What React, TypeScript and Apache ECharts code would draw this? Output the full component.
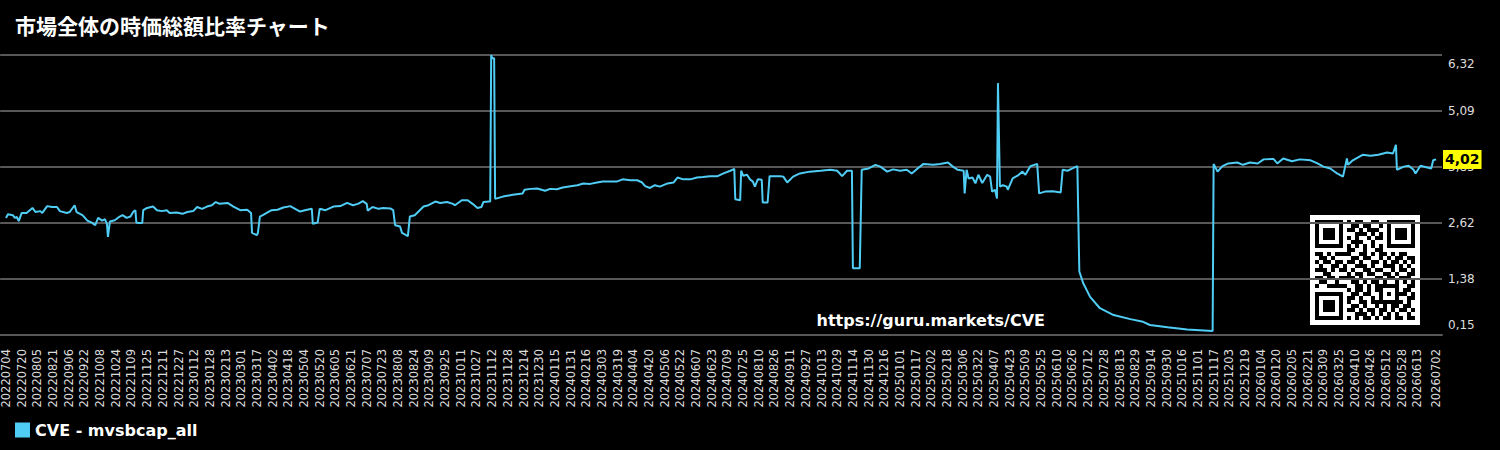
import React, { useEffect, useRef } from 'react';
import * as echarts from 'echarts';

const TITLE = '市場全体の時価総額比率チャート';
const SERIES_NAME = 'CVE - mvsbcap_all';
const URL_TEXT = 'https://guru.markets/CVE';
const LINE_COLOR = '#4fcdf5';
const FONT = '"DejaVu Sans", sans-serif';

// x axis: calendar days since 2022-07-04 (last day = 2026-07-02)
const START_UTC = Date.UTC(2022, 6, 4);
const LAST_DAY = 1459;
const TICK_STEP_DAYS = 16;

// y axis ticks
const Y_MIN = 0.15;
const Y_MAX = 6.32;
const Y_TICKS = [0.15, 1.384, 2.618, 3.852, 5.086, 6.32];

// series: day offset and value
const days = [
  0, 2, 7, 9, 11, 13, 16, 21, 27, 30, 35, 37, 42, 47, 52, 55, 62, 65, 70, 72,
  78, 83, 88, 91, 94, 98, 101, 103, 104, 106, 111, 116, 119, 123, 127, 130, 132, 133, 135, 139,
  140, 144, 150, 154, 159, 164, 167, 174, 180, 185, 191, 195, 200, 205, 210, 214, 218, 226, 232, 239,
  246, 250, 251, 256, 257, 259, 262, 266, 271, 277, 283, 290, 295, 300, 305, 312, 313, 318, 320, 326,
  334, 341, 348, 354, 359, 364, 368, 369, 374, 380, 385, 392, 395, 397, 402, 404, 410, 412, 417, 426,
  431, 438, 443, 450, 456, 458, 465, 471, 476, 481, 485, 487, 493, 494, 495, 496, 498, 499, 507, 517,
  527, 529, 535, 542, 550, 555, 562, 568, 576, 583, 589, 596, 603, 609, 616, 623, 629, 637, 644, 649,
  652, 657, 662, 667, 675, 681, 685, 691, 698, 705, 711, 718, 726, 732, 739, 743, 744, 749, 750, 752,
  756, 759, 762, 764, 767, 771, 772, 777, 779, 783, 790, 793, 797, 803, 810, 820, 831, 841, 848, 853,
  858, 863, 864, 871, 873, 880, 887, 892, 899, 905, 912, 919, 924, 930, 936, 946, 953, 961, 966, 971,
  977, 978, 980, 982, 986, 989, 992, 996, 1001, 1004, 1006, 1009, 1011, 1012, 1014, 1017, 1021, 1022, 1027, 1032,
  1037, 1040, 1045, 1052, 1054, 1060, 1068, 1076, 1078, 1083, 1088, 1093, 1095, 1099, 1106, 1116, 1130, 1147, 1160, 1167,
  1185, 1205, 1231, 1232, 1236, 1241, 1247, 1256, 1262, 1269, 1277, 1283, 1293, 1297, 1303, 1312, 1320, 1331, 1338, 1344,
  1351, 1358, 1364, 1368, 1369, 1374, 1384, 1392, 1400, 1409, 1415, 1418, 1419, 1426, 1431, 1436, 1438, 1443, 1450, 1454,
  1456, 1459,
];
const values = [
  2.73, 2.81, 2.79, 2.73, 2.75, 2.66, 2.84, 2.84, 2.95, 2.86, 2.88, 2.84, 2.99, 2.97, 2.97, 2.88, 2.84, 2.86, 3.01, 2.86,
  2.79, 2.67, 2.62, 2.57, 2.73, 2.67, 2.7, 2.6, 2.31, 2.65, 2.68, 2.76, 2.79, 2.73, 2.76, 2.87, 2.9, 2.63, 2.62, 2.62,
  2.9, 2.95, 2.98, 2.9, 2.88, 2.9, 2.84, 2.85, 2.82, 2.86, 2.88, 2.97, 2.93, 2.98, 3.01, 3.08, 3.04, 3.06, 2.98, 2.9,
  2.91, 2.84, 2.4, 2.35, 2.4, 2.76, 2.79, 2.84, 2.9, 2.91, 2.96, 2.99, 2.93, 2.87, 2.9, 2.93, 2.6, 2.63, 2.93, 2.9,
  2.98, 2.99, 3.06, 3.01, 3.04, 3.1, 3.04, 2.89, 2.97, 2.93, 2.95, 2.94, 2.9, 2.57, 2.54, 2.4, 2.33, 2.76, 2.79, 2.98,
  3.01, 3.09, 3.06, 3.08, 3.04, 3.01, 3.12, 3.12, 3.04, 2.95, 2.97, 3.08, 3.09, 3.09, 6.32, 6.25, 6.25, 3.15, 3.2, 3.24,
  3.27, 3.35, 3.37, 3.38, 3.33, 3.37, 3.36, 3.4, 3.43, 3.45, 3.49, 3.48, 3.51, 3.53, 3.53, 3.53, 3.58, 3.56, 3.56, 3.51,
  3.43, 3.39, 3.45, 3.42, 3.49, 3.51, 3.62, 3.58, 3.58, 3.62, 3.63, 3.65, 3.65, 3.71, 3.77, 3.81, 3.14, 3.12, 3.77, 3.66,
  3.68, 3.58, 3.53, 3.42, 3.58, 3.57, 3.07, 3.07, 3.65, 3.65, 3.65, 3.64, 3.51, 3.64, 3.71, 3.75, 3.77, 3.79, 3.77, 3.65,
  3.77, 3.77, 1.62, 1.62, 3.79, 3.82, 3.9, 3.86, 3.75, 3.8, 3.77, 3.79, 3.71, 3.82, 3.92, 3.9, 3.92, 3.95, 3.86, 3.79,
  3.77, 3.27, 3.79, 3.6, 3.62, 3.49, 3.68, 3.5, 3.68, 3.64, 3.31, 3.35, 3.16, 5.7, 3.42, 3.45, 3.42, 3.35, 3.6, 3.66,
  3.75, 3.68, 3.87, 3.92, 3.27, 3.31, 3.32, 3.29, 3.79, 3.77, 3.82, 3.87, 1.55, 1.29, 0.99, 0.74, 0.59, 0.5, 0.44, 0.37,
  0.32, 0.27, 0.24, 3.92, 3.75, 3.87, 3.93, 3.95, 3.9, 3.95, 3.93, 4.02, 4.03, 3.93, 4.04, 3.98, 4.02, 4.0, 3.93, 3.86,
  3.82, 3.71, 3.64, 4.04, 3.9, 4.0, 4.12, 4.1, 4.12, 4.17, 4.15, 4.34, 3.79, 3.86, 3.88, 3.79, 3.71, 3.88, 3.84, 3.82,
  4.0, 4.02,
];

// QR-like decoration (25 x 25 modules)
const QR_ROWS = [
  '1111111010110011001111111',
  '1000001001101100101000001',
  '1011101011010111001011101',
  '1011101000111010101011101',
  '1011101010100101101011101',
  '1000001001110010001000001',
  '1111111010101010101111111',
  '0000000011001001100000000',
  '1101011110011010110101100',
  '0110100001101100101011011',
  '1011011011010011010110101',
  '0100110100111010011101010',
  '1110101101001101100101101',
  '0011000010110110011010011',
  '1101101111010001101101110',
  '0110010001101011010010101',
  '1001111100110101111110011',
  '0000000010110101100010110',
  '1111111001101100101011101',
  '1000001011010010100010011',
  '1011101010011011111111010',
  '1011101001101001010110110',
  '1011101011010110110101101',
  '1000001000111010101010010',
  '1111111010101101011011011',
];

const pad2 = (n: number) => (n < 10 ? '0' + n : '' + n);
const dayLabel = (d: number) => {
  const dt = new Date(START_UTC + Math.round(d) * 86400000);
  return `${dt.getUTCFullYear()}${pad2(dt.getUTCMonth() + 1)}${pad2(dt.getUTCDate())}`;
};
const fmt = (v: number) => v.toFixed(2).replace('.', ',');

const xTicks: number[] = [];
for (let d = 0; d < LAST_DAY - TICK_STEP_DAYS; d += TICK_STEP_DAYS) xTicks.push(d);
xTicks.push(LAST_DAY);

export default function App() {
  const ref = useRef<HTMLDivElement>(null);
  useEffect(() => {
    if (!ref.current) return;
    const chart = echarts.init(ref.current, null, { renderer: 'svg' });
    const data = days.map((d, i) => [d, values[i]]);
    const latest = values[values.length - 1];

    const qrChildren: any[] = [
      { type: 'rect', shape: { x: 0, y: 0, width: 110, height: 110 }, style: { fill: '#ffffff' } },
    ];
    QR_ROWS.forEach((row, r) => {
      row.split('').forEach((c, col) => {
        if (c === '1') {
          qrChildren.push({
            type: 'rect',
            shape: { x: 5 + col * 4, y: 5 + r * 4, width: 4, height: 4 },
            style: { fill: '#000000' },
          });
        }
      });
    });

    chart.setOption({
      animation: false,
      backgroundColor: '#000000',
      title: {
        text: TITLE,
        left: 15,
        top: 14,
        padding: 0,
        textStyle: {
          color: '#ffffff',
          fontSize: 21,
          fontWeight: 'bold',
          fontFamily: '"Noto Sans CJK JP", sans-serif',
        },
      },
      legend: {
        data: [SERIES_NAME],
        left: 15,
        top: 422,
        padding: 0,
        icon: 'rect',
        itemWidth: 15,
        itemHeight: 15,
        itemGap: 10,
        textStyle: { color: '#ffffff', fontSize: 16, fontWeight: 'bold', fontFamily: FONT },
      },
      grid: { left: 0, right: 58, top: 55, bottom: 115, containLabel: false },
      xAxis: {
        type: 'value',
        min: -6,
        max: LAST_DAY + 6,
        splitLine: { show: false },
        axisTick: { show: false },
        axisLine: { show: true, lineStyle: { color: '#585858', width: 2 } },
        axisLabel: {
          customValues: xTicks,
          rotate: 90,
          margin: 14,
          color: '#dddddd',
          fontSize: 11.5,
          fontFamily: FONT,
          formatter: (v: number) => dayLabel(v),
        },
      },
      yAxis: {
        type: 'value',
        position: 'right',
        min: Y_MIN,
        max: Y_MAX,
        axisLine: { show: false },
        axisTick: { show: false, customValues: Y_TICKS },
        splitLine: { show: true, lineStyle: { color: '#585858', width: 2 } },
        axisLabel: {
          customValues: Y_TICKS,
          margin: 6,
          color: '#dddddd',
          fontSize: 12,
          fontFamily: FONT,
          formatter: (v: number) => {
            if (v >= Y_MAX - 0.001) return `{top|${fmt(v)}}`;
            if (v <= Y_MIN + 0.001) return `{bot|${fmt(v)}}`;
            return fmt(v);
          },
          rich: {
            top: { color: '#dddddd', fontSize: 12, fontFamily: FONT, padding: [18, 0, 0, 0] },
            bot: { color: '#dddddd', fontSize: 12, fontFamily: FONT, padding: [0, 0, 20, 0] },
          },
        },
      },
      series: [
        {
          name: SERIES_NAME,
          type: 'line',
          data,
          showSymbol: false,
          symbol: 'none',
          color: LINE_COLOR,
          itemStyle: { color: LINE_COLOR },
          lineStyle: { color: LINE_COLOR, width: 2 },
          markLine: {
            silent: true,
            symbol: 'none',
            lineStyle: { color: 'rgba(0,0,0,0)', width: 1, type: 'solid' },
            label: {
              show: true,
              position: 'end',
              distance: 1,
              formatter: () => fmt(latest),
              backgroundColor: '#ffff00',
              color: '#000000',
              fontWeight: 'bold',
              fontSize: 14,
              fontFamily: FONT,
              padding: [3, 2, 2, 2],
            },
            data: [{ yAxis: latest }],
          },
        },
      ],
      graphic: [
        { type: 'group', x: 1310, y: 215, children: qrChildren },
        {
          type: 'text',
          x: 1045,
          y: 320,
          style: {
            text: URL_TEXT,
            fill: '#ffffff',
            fontSize: 16,
            fontWeight: 'bold',
            fontFamily: FONT,
            textAlign: 'right',
            textVerticalAlign: 'middle',
            align: 'right',
            verticalAlign: 'middle',
          },
        },
      ],
    });
    return () => chart.dispose();
  }, []);
  return (
    <div
      ref={ref}
      style={{ position: 'fixed', left: 0, top: 0, width: 1500, height: 450 }}
    />
  );
}
